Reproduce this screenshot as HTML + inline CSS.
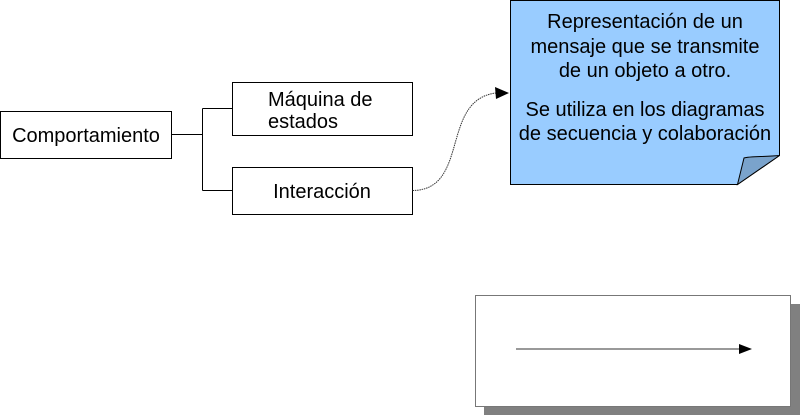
<!DOCTYPE html>
<html><head><style>body{margin:0;background:#fff}svg{display:block}text{font-family:"Liberation Sans",sans-serif;font-size:20px;fill:#000}</style></head>
<body>
<svg width="800" height="415" viewBox="0 0 800 415">
<rect x="0.5" y="111.5" width="171" height="47" fill="#fff" stroke="#000"/>
<text x="86" y="142" text-anchor="middle">Comportamiento</text>
<rect x="232.5" y="82.5" width="180" height="53" fill="#fff" stroke="#000"/>
<text x="268" y="106">Máquina de</text>
<text x="268" y="128">estados</text>
<rect x="232.5" y="167.5" width="180" height="47" fill="#fff" stroke="#000"/>
<text x="322" y="198" text-anchor="middle">Interacción</text>
<path d="M171.5 134.5H202.5M202.5 108.5V190.5M202.5 108.5H232.5M202.5 190.5H232.5" fill="none" stroke="#000"/>
<path d="M412.5 190.5C470 190 440 100 496 93" fill="none" stroke="#333" stroke-dasharray="1.5,0.8"/>
<polygon points="509,93 495,87 496,99" fill="#000"/>
<path d="M510.5 0.5H779.5V155.5L737.5 184.5H510.5Z" fill="#99ccff" stroke="#000"/>
<path d="M779.5 155.5C765 157 750 156 744 158L737.5 184.5Z" fill="#7aa3cc" stroke="#000"/>
<g text-anchor="middle" style="font-size:19.5px">
<text x="645" y="28">Representación de un</text>
<text x="645" y="53">mensaje que se transmite</text>
<text x="645" y="77">de un objeto a otro.</text>
<text x="645" y="116">Se utiliza en los diagramas</text>
<text x="645" y="140">de secuencia y colaboración</text>
</g>
<rect x="484" y="304" width="316" height="111" fill="#808080"/>
<rect x="475.5" y="295.5" width="315" height="111" fill="#fff" stroke="#777"/>
<line x1="516" y1="349" x2="740" y2="349" stroke="#333"/>
<polygon points="752,349 739,344 739,354" fill="#000"/>
</svg>
</body></html>
